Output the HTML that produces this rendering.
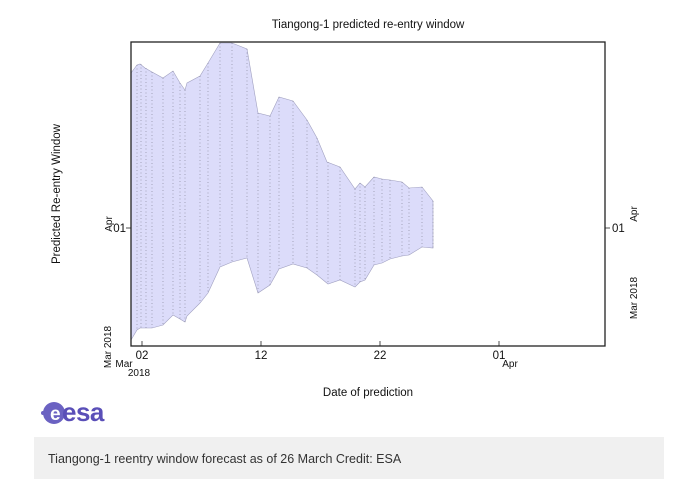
<!DOCTYPE html>
<html><head><meta charset="utf-8"><style>
html,body{margin:0;padding:0;background:#fff;width:676px;height:482px;overflow:hidden}
svg{display:block}
</style></head><body>
<svg width="676" height="482" viewBox="0 0 676 482" font-family="Liberation Sans, sans-serif">
<polygon fill="#dcdcfa" stroke="#a0a0c0" stroke-width="0.6" points="131,73 137,65 140,64 145,68 152,72 163,78 173,71 180,83 185,90 187,83 200,76 208,63 220,43 232,43 247,49 258,113 270,116 279,97 293,101 307,120 317,138 327,162 340,167 355,189 360,183 365,187 374,177 382,179 390,180 402,182 409,188 422,187 433,201 433,248 422,247 409,255 402,256 390,259 382,263 374,265 365,280 360,282 355,287 340,280 328,284 317,275 307,268 293,264 279,269 270,285 258,293 247,258 232,262 220,267 208,293 200,303 187,316 185,322 180,319 173,315 163,325 152,328 140,328 137,330 131,340"/>
<g stroke="#8a8aa0" stroke-width="0.7" stroke-dasharray="1,2.5">
<line x1="137" y1="65" x2="137" y2="330"/><line x1="141" y1="64" x2="141" y2="328"/><line x1="146" y1="68" x2="146" y2="328"/><line x1="152" y1="72" x2="152" y2="328"/><line x1="163" y1="78" x2="163" y2="325"/><line x1="173" y1="71" x2="173" y2="315"/><line x1="180" y1="83" x2="180" y2="319"/><line x1="185" y1="90" x2="185" y2="322"/><line x1="200" y1="76" x2="200" y2="303"/><line x1="208" y1="63" x2="208" y2="293"/><line x1="220" y1="43" x2="220" y2="267"/><line x1="232" y1="43" x2="232" y2="262"/><line x1="247" y1="49" x2="247" y2="258"/><line x1="258" y1="113" x2="258" y2="293"/><line x1="270" y1="116" x2="270" y2="285"/><line x1="279" y1="97" x2="279" y2="269"/><line x1="293" y1="101" x2="293" y2="264"/><line x1="307" y1="120" x2="307" y2="268"/><line x1="317" y1="138" x2="317" y2="275"/><line x1="328" y1="162" x2="328" y2="284"/><line x1="340" y1="167" x2="340" y2="280"/><line x1="355" y1="189" x2="355" y2="287"/><line x1="360" y1="183" x2="360" y2="282"/><line x1="365" y1="187" x2="365" y2="280"/><line x1="374" y1="177" x2="374" y2="265"/><line x1="382" y1="179" x2="382" y2="263"/><line x1="390" y1="180" x2="390" y2="259"/><line x1="402" y1="182" x2="402" y2="256"/><line x1="409" y1="188" x2="409" y2="255"/><line x1="422" y1="187" x2="422" y2="247"/><line x1="433" y1="201" x2="433" y2="248"/>
</g>
<rect x="131" y="42" width="474" height="304" fill="none" stroke="#222" stroke-width="1.3"/>
<g stroke="#222" stroke-width="0.8">
<line x1="142" y1="346" x2="142" y2="341"/><line x1="261" y1="346" x2="261" y2="341"/><line x1="380" y1="346" x2="380" y2="341"/><line x1="499" y1="346" x2="499" y2="341"/>
<line x1="131" y1="228" x2="126" y2="228"/><line x1="605" y1="228" x2="610" y2="228"/>
</g>
<text x="368" y="28" font-size="11.5" text-anchor="middle" fill="#111">Tiangong-1 predicted re-entry window</text>
<g font-size="11.5" fill="#111" text-anchor="middle">
<text x="142" y="359">02</text><text x="261" y="359">12</text><text x="380" y="359">22</text><text x="499" y="359">01</text>
</g>
<g font-size="10" fill="#111">
<text x="124" y="367" text-anchor="middle">Mar</text><text x="139" y="376" text-anchor="middle">2018</text>
<text x="510" y="367" text-anchor="middle">Apr</text>
</g>
<text x="368" y="396" font-size="11.5" text-anchor="middle" fill="#111">Date of prediction</text>
<text x="126" y="232" font-size="11.5" fill="#111" text-anchor="end">01</text>
<text x="612" y="232" font-size="11.5" fill="#111">01</text>
<text transform="translate(112,224) rotate(-90)" font-size="10" fill="#111" text-anchor="middle">Apr</text>
<text transform="translate(637,214) rotate(-90)" font-size="10" fill="#111" text-anchor="middle">Apr</text>
<text transform="translate(111,347) rotate(-90)" font-size="10" fill="#111" text-anchor="middle">Mar 2018</text>
<text transform="translate(637,298) rotate(-90)" font-size="10" fill="#111" text-anchor="middle">Mar 2018</text>
<text transform="translate(60,194) rotate(-90)" font-size="11.5" fill="#111" text-anchor="middle">Predicted Re-entry Window</text>
<!-- esa logo -->
<circle cx="54" cy="413" r="11" fill="#6b62c2"/>
<circle cx="43" cy="413" r="2" fill="#6b62c2"/>
<text x="50" y="420" font-size="19" font-weight="bold" fill="#fff">e</text>
<text x="62" y="421" font-size="26" font-weight="bold" fill="#5a4fb8" letter-spacing="-0.5">esa</text>
<rect x="34" y="437" width="630" height="42" fill="#f0f0f0"/>
<text x="48" y="463" font-size="12.5" fill="#333">Tiangong-1 reentry window forecast as of 26 March Credit: ESA</text>
</svg>
</body></html>
